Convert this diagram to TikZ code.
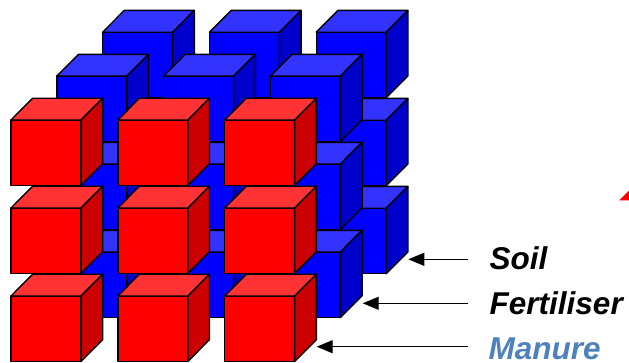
\documentclass[tikz,border=0pt]{standalone}
\usepackage{fontspec}
\setmainfont{Liberation Sans}
\usetikzlibrary{arrows.meta}
\definecolor{redfront}{HTML}{FF0000}
\definecolor{redtop}{HTML}{FF3333}
\definecolor{redside}{HTML}{CC0000}
\definecolor{bluefront}{HTML}{0000FF}
\definecolor{bluetop}{HTML}{3333FF}
\definecolor{blueside}{HTML}{0000CC}
\definecolor{manurecol}{HTML}{4F81BD}
\begin{document}
\begin{tikzpicture}[x=1pt,y=-1pt,
  cubeedge/.style={draw=black,line width=1.4pt,line join=round},
  lab/.style={font=\fontsize{31.5}{36}\selectfont\bfseries\itshape,inner sep=0pt,anchor=base west},
  pointer/.style={line width=1.3pt,-{Triangle[length=16pt,width=13pt]}}]
\useasboundingbox (0,0) rectangle (629,362);
\foreach \k/\fc/\tc/\sc in {2/bluefront/bluetop/blueside,1/bluefront/bluetop/blueside,0/redfront/redtop/redside}{
  \foreach \i in {0,1,2}{
    \foreach \j in {0,1,2}{
      \pgfmathsetmacro\X{11+106.8*\i+45.8*\k}
      \pgfmathsetmacro\Y{120+88*\j-43.9*\k}
      \draw[cubeedge,fill=\fc] (\X,\Y) rectangle ++(70,65.5);
      \draw[cubeedge,fill=\tc] (\X,\Y) -- ++(21.7,-21.8) -- ++(70,0) -- ++(-21.7,21.8) -- cycle;
      \draw[cubeedge,fill=\sc] (\X+70,\Y) -- ++(21.7,-21.8) -- ++(0,65.5) -- ++(-21.7,21.8) -- cycle;
    }
  }
}
\node[lab] (soil) at (489.5,269.3) {Soil};
\node[lab] (fert) at (489.5,314) {Fertiliser};
\node[lab,text=manurecol] (manure) at (488.5,359.3) {Manure};
\coordinate (soilfrom) at (468.3,259.3);
\coordinate (soiltip) at (408.3,259.3);
\coordinate (fertfrom) at (468.3,303.3);
\coordinate (ferttip) at (362.7,303.3);
\coordinate (manfrom) at (468.3,346.7);
\coordinate (mantip) at (316.7,346.7);
\draw[pointer] (soilfrom) -- (soiltip);
\draw[pointer] (fertfrom) -- (ferttip);
\draw[pointer] (manfrom) -- (mantip);
\fill[red] (619.3,200.3) -- (630,189.7) -- (630,200.3) -- cycle;
\end{tikzpicture}
\end{document}
